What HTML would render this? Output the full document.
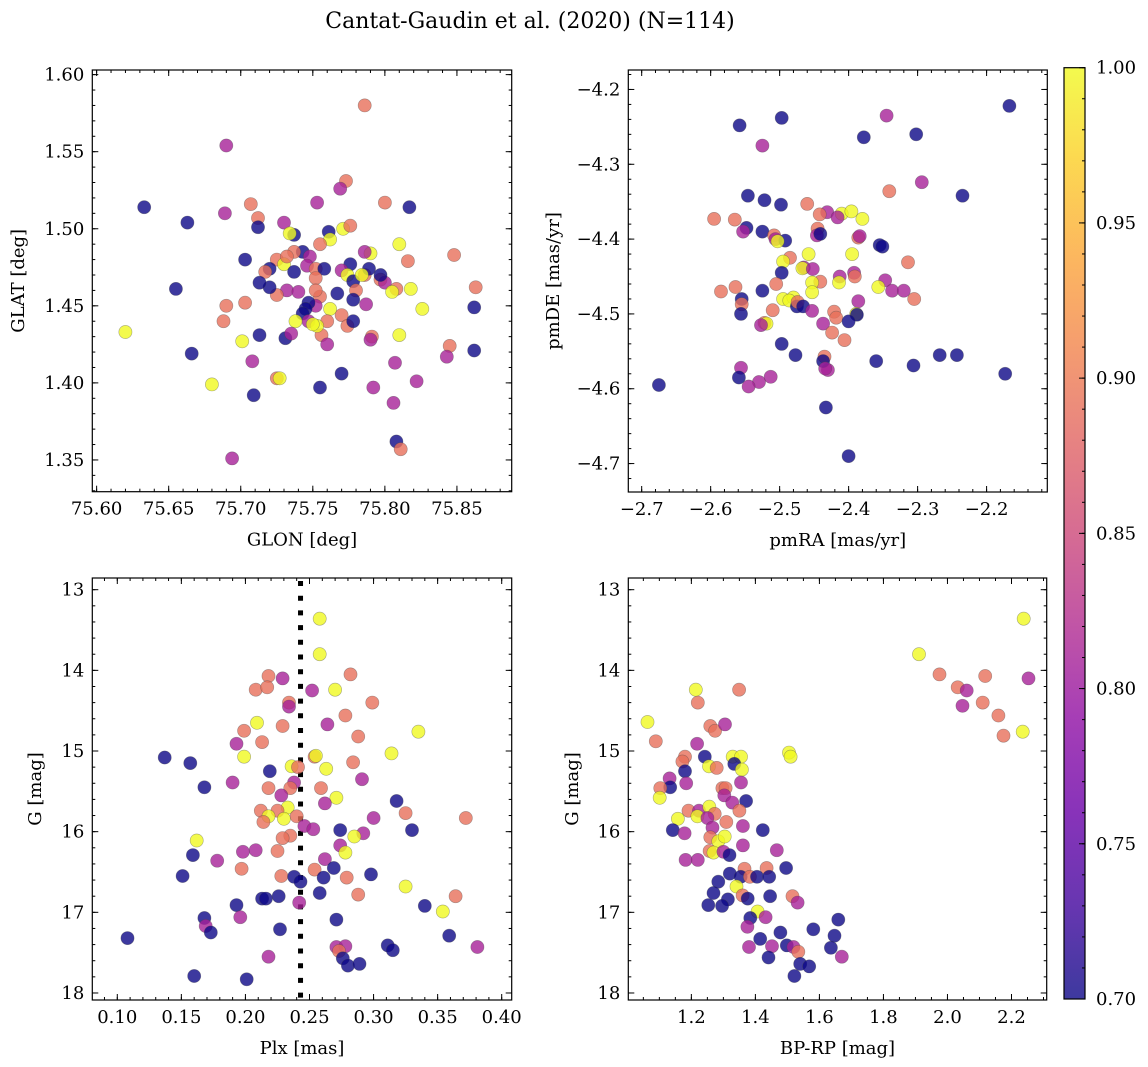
<!DOCTYPE html>
<html><head><meta charset="utf-8">
<style>
html,body{margin:0;padding:0;background:#fff;}
svg{display:block;font-family:"DejaVu Serif","Liberation Serif",serif;}
</style></head>
<body>
<svg id="fig" width="1148" height="1067" viewBox="0 0 1148 1067" xmlns="http://www.w3.org/2000/svg">
<defs>
<linearGradient id="plasma" x1="0" y1="1" x2="0" y2="0">
<stop offset="0" stop-color="#0d0887"/><stop offset="0.1" stop-color="#41049d"/><stop offset="0.2" stop-color="#6a00a8"/><stop offset="0.3" stop-color="#8f0da4"/><stop offset="0.4" stop-color="#b12a90"/><stop offset="0.5" stop-color="#cc4778"/><stop offset="0.6" stop-color="#e16462"/><stop offset="0.7" stop-color="#f2844b"/><stop offset="0.8" stop-color="#fca636"/><stop offset="0.9" stop-color="#fcce25"/><stop offset="1" stop-color="#f0f921"/>
</linearGradient>
</defs>
<text x="530" y="28" font-size="22" text-anchor="middle">Cantat-Gaudin et al. (2020) (N=114)</text>
</svg>
<script>
// ---- Panel 1: GLON vs GLAT ----
const tlLon=[75.786,75.69,75.633,75.663,75.689,75.707,75.712,75.712,75.773,75.769,75.753,75.80,75.817,75.730,75.737,75.734,75.761,75.771,75.776,75.81,75.79,75.786,75.762,75.755,75.743,75.725,75.737,75.748,75.73,75.703,75.720,75.717,75.737,75.746,75.752,75.758,75.752,75.776,75.770,75.774,75.778,75.780,75.786,75.789,75.797,75.816,75.848,75.863,75.862,75.862,75.845,75.843,75.826,75.818,75.810,75.808,75.800,75.805,75.807,75.822,75.806,75.808,75.811,75.792,75.791,75.790,75.787,75.778,75.767,75.770,75.774,75.778,75.762,75.760,75.756,75.760,75.755,75.752,75.752,75.747,75.745,75.743,75.747,75.753,75.750,75.738,75.732,75.740,75.725,75.720,75.713,75.703,75.69,75.688,75.655,75.666,75.620,75.680,75.701,75.708,75.713,75.709,75.694,75.725,75.727,75.731,75.735,75.755,75.770,75.784,75.797,75.732];
const tlLat=[1.580,1.554,1.514,1.504,1.510,1.516,1.507,1.501,1.531,1.526,1.517,1.517,1.514,1.504,1.496,1.497,1.498,1.500,1.502,1.490,1.484,1.485,1.493,1.490,1.485,1.480,1.485,1.482,1.477,1.480,1.474,1.472,1.472,1.476,1.474,1.474,1.468,1.477,1.473,1.470,1.466,1.460,1.470,1.474,1.467,1.479,1.483,1.462,1.449,1.421,1.424,1.417,1.448,1.461,1.431,1.461,1.465,1.459,1.413,1.401,1.387,1.362,1.357,1.397,1.430,1.428,1.451,1.454,1.458,1.444,1.437,1.440,1.448,1.440,1.431,1.425,1.456,1.450,1.460,1.452,1.448,1.445,1.440,1.437,1.438,1.440,1.460,1.459,1.457,1.462,1.465,1.452,1.450,1.440,1.461,1.419,1.433,1.399,1.427,1.414,1.431,1.392,1.351,1.403,1.403,1.429,1.432,1.397,1.406,1.470,1.470,1.482];
const tlProb=[.89,.81,.7,.7,.81,.89,.89,.7,.89,.81,.81,.89,.7,.81,.7,1,.7,1,.89,1,1,.81,1,.89,.7,.89,.89,.81,1,.7,.7,.89,.7,.81,.89,.7,.89,.7,.81,1,.7,.89,.89,.7,.89,.89,.89,.89,.7,.7,.89,.81,1,1,1,.89,.81,1,.81,.81,.81,.7,.89,.81,.89,.81,.81,.7,.7,.89,.89,.7,1,.89,.89,.81,.89,.81,.89,.7,.7,.7,.81,1,1,1,.81,.81,.89,.7,.7,.89,.89,.89,.7,.7,1,1,1,.81,.7,.7,.81,.89,1,.7,.81,.7,.7,1,.7,.89];
const tlXTicks=[75.60,75.65,75.70,75.75,75.80,75.85];
const tlXLabels=["75.60","75.65","75.70","75.75","75.80","75.85"];
const tlYTicks=[1.35,1.40,1.45,1.50,1.55,1.60];
const tlYLabels=["1.35","1.40","1.45","1.50","1.55","1.60"];
// ---- Panel 2: pmRA vs pmDE ----
const trPmra=[-2.675,-2.558,-2.497,-2.525,-2.345,-2.167,-2.378,-2.302,-2.294,-2.341,-2.235,-2.546,-2.522,-2.498,-2.460,-2.431,-2.442,-2.410,-2.396,-2.380,-2.416,-2.595,-2.565,-2.548,-2.553,-2.525,-2.508,-2.506,-2.492,-2.503,-2.445,-2.446,-2.441,-2.458,-2.386,-2.384,-2.355,-2.351,-2.314,-2.485,-2.495,-2.497,-2.465,-2.467,-2.452,-2.395,-2.441,-2.453,-2.413,-2.414,-2.392,-2.391,-2.347,-2.337,-2.320,-2.305,-2.357,-2.386,-2.389,-2.388,-2.564,-2.555,-2.555,-2.556,-2.585,-2.525,-2.505,-2.495,-2.480,-2.486,-2.475,-2.474,-2.466,-2.453,-2.453,-2.421,-2.418,-2.400,-2.510,-2.522,-2.519,-2.527,-2.497,-2.437,-2.424,-2.406,-2.435,-2.477,-2.430,-2.437,-2.434,-2.556,-2.559,-2.530,-2.513,-2.545,-2.360,-2.306,-2.268,-2.243,-2.173,-2.433,-2.400];
const trPmde=[-4.595,-4.248,-4.238,-4.275,-4.235,-4.222,-4.264,-4.260,-4.324,-4.336,-4.342,-4.342,-4.348,-4.354,-4.353,-4.364,-4.367,-4.366,-4.363,-4.373,-4.371,-4.373,-4.374,-4.385,-4.390,-4.390,-4.395,-4.400,-4.402,-4.403,-4.386,-4.395,-4.393,-4.420,-4.398,-4.396,-4.408,-4.410,-4.431,-4.425,-4.430,-4.445,-4.438,-4.439,-4.440,-4.420,-4.457,-4.458,-4.450,-4.458,-4.445,-4.450,-4.455,-4.469,-4.469,-4.480,-4.464,-4.483,-4.500,-4.501,-4.464,-4.480,-4.487,-4.500,-4.470,-4.469,-4.460,-4.480,-4.478,-4.482,-4.490,-4.484,-4.490,-4.471,-4.496,-4.497,-4.505,-4.510,-4.495,-4.512,-4.513,-4.515,-4.540,-4.513,-4.525,-4.535,-4.557,-4.555,-4.575,-4.563,-4.573,-4.572,-4.585,-4.591,-4.584,-4.597,-4.563,-4.569,-4.555,-4.555,-4.580,-4.625,-4.690];
const trProb=[.7,.7,.7,.81,.81,.7,.7,.7,.81,.89,.7,.7,.7,.7,.89,.81,.89,1,1,1,.81,.89,.89,.7,.81,.7,.89,.81,.7,1,.89,.81,.7,1,.89,.81,.7,.7,.89,.89,1,.7,.81,1,.81,1,.89,1,.81,1,.81,.89,.81,.81,.81,.89,1,.81,1,.7,.89,.7,.89,.7,.89,.7,.89,1,1,1,.7,.89,.7,1,.81,.89,.89,.7,.89,.89,1,.81,.7,.81,.89,.89,.89,.7,.81,.7,.81,.81,.7,.81,.81,.81,.7,.7,.7,.7,.7,.7,.7];
const trXTicks=[-2.7,-2.6,-2.5,-2.4,-2.3,-2.2];
const trXLabels=["−2.7","−2.6","−2.5","−2.4","−2.3","−2.2"];
const trYTicks=[-4.7,-4.6,-4.5,-4.4,-4.3,-4.2];
const trYLabels=["−4.7","−4.6","−4.5","−4.4","−4.3","−4.2"];
// ---- Panel 3: Plx vs G ----
const blPlx=[0.258,0.258,0.218,0.229,0.282,0.208,0.217,0.252,0.270,0.234,0.234,0.299,0.278,0.209,0.229,0.264,0.199,0.335,0.288,0.213,0.193,0.314,0.137,0.199,0.254,0.255,0.157,0.236,0.241,0.219,0.263,0.284,0.190,0.238,0.291,0.168,0.218,0.235,0.259,0.228,0.271,0.318,0.262,0.233,0.212,0.225,0.218,0.230,0.240,0.214,0.325,0.372,0.300,0.246,0.253,0.274,0.330,0.292,0.285,0.235,0.229,0.162,0.274,0.278,0.159,0.198,0.208,0.225,0.178,0.262,0.197,0.254,0.269,0.151,0.228,0.238,0.243,0.261,0.279,0.298,0.325,0.258,0.288,0.226,0.213,0.216,0.364,0.242,0.193,0.340,0.354,0.168,0.196,0.271,0.169,0.173,0.227,0.359,0.108,0.311,0.315,0.271,0.278,0.273,0.276,0.381,0.218,0.280,0.289,0.160,0.201];
const blG=[13.36,13.80,14.07,14.10,14.05,14.24,14.21,14.25,14.24,14.40,14.45,14.40,14.56,14.65,14.69,14.67,14.75,14.76,14.82,14.89,14.91,15.03,15.08,15.07,15.07,15.06,15.15,15.19,15.20,15.25,15.22,15.14,15.39,15.39,15.35,15.45,15.46,15.46,15.46,15.55,15.58,15.62,15.65,15.70,15.74,15.74,15.81,15.84,15.81,15.88,15.77,15.83,15.83,15.93,15.97,15.98,15.98,16.02,16.06,16.05,16.08,16.11,16.17,16.26,16.29,16.25,16.23,16.24,16.36,16.34,16.46,16.47,16.45,16.55,16.55,16.56,16.62,16.57,16.57,16.53,16.68,16.76,16.78,16.80,16.83,16.83,16.80,16.88,16.91,16.92,16.99,17.07,17.06,17.09,17.17,17.25,17.21,17.29,17.32,17.41,17.47,17.43,17.42,17.48,17.57,17.43,17.55,17.66,17.64,17.79,17.83];
const blProb=[1,1,.89,.81,.89,.89,.89,.81,1,.89,.81,.89,.89,1,.89,.81,.89,1,.89,.89,.81,1,.7,1,.89,1,.7,1,.89,.7,1,.89,.81,.81,.81,.7,.89,.89,.89,.81,1,.7,.81,1,.89,.89,1,1,.89,.89,.89,.89,.81,.81,.81,.7,.7,.81,1,.89,.89,1,.81,1,.7,.81,.81,.89,.81,.81,.89,.89,.7,.7,.89,.7,.7,.7,.89,.7,1,.7,.89,.7,.7,.7,.89,.81,.7,.7,1,.7,.81,.7,.81,.7,.7,.7,.7,.7,.7,.81,.81,.89,.7,.81,.81,.7,.7,.7,.7];
const blPlxRef=[0.243];
const blXTicks=[0.10,0.15,0.20,0.25,0.30,0.35,0.40];
const blXLabels=["0.10","0.15","0.20","0.25","0.30","0.35","0.40"];
const gTicks=[13,14,15,16,17,18];
const gLabels=["13","14","15","16","17","18"];
// ---- Panel 4: BP-RP vs G ----
const brBprp=[2.238,1.911,1.975,2.118,2.253,2.032,2.060,2.047,2.110,2.159,2.175,2.235,1.214,1.349,1.220,1.063,1.089,1.259,1.274,1.305,1.218,1.180,1.172,1.242,1.329,1.355,1.334,1.255,1.279,1.358,1.180,1.505,1.510,1.132,1.134,1.103,1.184,1.297,1.307,1.355,1.303,1.328,1.371,1.101,1.191,1.224,1.256,1.219,1.273,1.250,1.350,1.158,1.309,1.266,1.142,1.179,1.361,1.423,1.259,1.284,1.304,1.361,1.257,1.269,1.300,1.319,1.467,1.182,1.220,1.366,1.435,1.496,1.320,1.354,1.383,1.405,1.443,1.284,1.341,1.269,1.314,1.360,1.376,1.446,1.516,1.532,1.253,1.296,1.407,1.384,1.432,1.375,1.659,1.581,1.478,1.647,1.415,1.498,1.519,1.534,1.380,1.452,1.636,1.670,1.441,1.540,1.568,1.522];
const brG=[13.36,13.80,14.05,14.07,14.10,14.21,14.25,14.44,14.40,14.56,14.81,14.76,14.24,14.24,14.40,14.64,14.88,14.69,14.75,14.67,14.91,15.07,15.13,15.07,15.07,15.07,15.16,15.19,15.21,15.23,15.25,15.02,15.07,15.34,15.45,15.46,15.40,15.46,15.46,15.39,15.55,15.64,15.62,15.58,15.74,15.74,15.69,15.81,15.78,15.83,15.74,15.84,15.88,15.95,15.98,16.02,15.93,15.98,16.07,16.12,16.06,16.17,16.24,16.26,16.25,16.29,16.23,16.35,16.35,16.46,16.45,16.45,16.52,16.56,16.56,16.56,16.56,16.62,16.68,16.76,16.84,16.79,16.83,16.80,16.80,16.88,16.91,16.92,16.99,17.07,17.06,17.18,17.09,17.21,17.25,17.29,17.33,17.41,17.43,17.49,17.43,17.42,17.44,17.55,17.56,17.64,17.67,17.79];
const brProb=[1,1,.89,.89,.81,.89,.81,.81,.89,.89,.89,1,1,.89,.89,1,.89,.89,.89,.81,.81,.89,.89,.7,1,1,.7,1,.89,1,.7,1,1,.81,.7,.89,.81,.89,.89,.81,.81,.81,.7,1,.89,.81,1,1,.89,.81,.89,1,.89,.81,.7,.81,.81,.7,.89,1,1,.81,.89,1,.81,.7,.81,.81,.81,.89,.89,.7,.7,.7,.89,.7,.7,.7,1,.7,.7,.89,.7,.7,.89,.81,.7,.7,1,.7,.81,.81,.7,.7,.7,.7,.7,.7,.81,.89,.81,.81,.7,.81,.7,.7,.7,.7];
const brXTicks=[1.2,1.4,1.6,1.8,2.0,2.2];
const brXLabels=["1.2","1.4","1.6","1.8","2.0","2.2"];
// ---- Colorbar ----
const cbTicks=[0.70,0.75,0.80,0.85,0.90,0.95,1.00];
const cbLabels=["0.70","0.75","0.80","0.85","0.90","0.95","1.00"];

const NS="http://www.w3.org/2000/svg";
const svg=document.getElementById('fig');
const FS=18;
function mk(tag,attrs,parent){const e=document.createElementNS(NS,tag);for(const k in attrs)e.setAttribute(k,attrs[k]);(parent||svg).appendChild(e);return e;}
const stops=[[13,8,135],[65,4,157],[106,0,168],[143,13,164],[177,42,144],[204,71,120],[225,100,98],[242,132,75],[252,166,54],[252,206,37],[240,249,33]];
function plasma(v){const t=Math.max(0,Math.min(1,(v-0.7)/0.3))*10;const i=Math.min(9,Math.floor(t));const f=t-i;const a=stops[i],b=stops[i+1];return `rgb(${Math.round(a[0]+(b[0]-a[0])*f)},${Math.round(a[1]+(b[1]-a[1])*f)},${Math.round(a[2]+(b[2]-a[2])*f)})`;}
function minorTicks(lo,hi,step){const out=[];const s=Math.ceil(lo/step-1e-6);for(let k=s;k*step<=hi+1e-9;k++)out.push(k*step);return out;}

function panel(o){
  const g=mk('g',{});
  
  
  const sx=v=>o.x0+(v-o.xd[0])/(o.xd[1]-o.xd[0])*(o.x1-o.x0);
  const sy=o.yInv?(v=>o.y0+(v-o.yd[0])/(o.yd[1]-o.yd[0])*(o.y1-o.y0)):(v=>o.y1-(v-o.yd[0])/(o.yd[1]-o.yd[0])*(o.y1-o.y0));
  if(o.vline){for(const v of o.vline){const l=mk('line',{x1:sx(v),x2:sx(v),y1:o.y0+3,y2:o.y1,stroke:'#000','stroke-width':5,'stroke-dasharray':'5 9.7'},g);
    
    }}
  const pg=mk('g',{},g);
  
  
  const n=Math.min(o.xs.length,o.ys.length,o.cs.length);
  for(let i=0;i<n;i++){
    const c=mk('circle',{cx:sx(o.xs[i]).toFixed(1),cy:sy(o.ys[i]).toFixed(1),r:6.6,fill:plasma(o.cs[i]),'fill-opacity':0.8,stroke:'rgba(70,70,70,0.45)','stroke-width':0.6},pg);
    
    
  }
  const fr=mk('rect',{x:o.x0,y:o.y0,width:o.x1-o.x0,height:o.y1-o.y0,fill:'none',stroke:'#000','stroke-width':1.2},g);
  
  
  const tk=mk('g',{stroke:'#000','stroke-width':1},g);
  for(const v of minorTicks(o.xd[0],o.xd[1],o.xMinor)){const x=sx(v);mk('line',{x1:x,x2:x,y1:o.y1,y2:o.y1-3},tk);mk('line',{x1:x,x2:x,y1:o.y0,y2:o.y0+3},tk);}
  for(const v of minorTicks(Math.min(...o.yd),Math.max(...o.yd),o.yMinor)){const y=sy(v);mk('line',{x1:o.x0,x2:o.x0+3,y1:y,y2:y},tk);mk('line',{x1:o.x1,x2:o.x1-3,y1:y,y2:y},tk);}
  o.xt.forEach((v,i)=>{const x=sx(v);mk('line',{x1:x,x2:x,y1:o.y1,y2:o.y1-6},tk);mk('line',{x1:x,x2:x,y1:o.y0,y2:o.y0+6},tk);
    const t=mk('text',{x:x,y:o.y1+23,'font-size':FS,'text-anchor':'middle'},g);t.textContent=o.xl[i];
    
    });
  o.yt.forEach((v,i)=>{const y=sy(v);mk('line',{x1:o.x0,x2:o.x0+6,y1:y,y2:y},tk);mk('line',{x1:o.x1,x2:o.x1-6,y1:y,y2:y},tk);
    const t=mk('text',{x:o.x0-8,y:y+6,'font-size':FS,'text-anchor':'end'},g);t.textContent=o.yl[i];
    
    });
  const xt=mk('text',{x:(o.x0+o.x1)/2,y:o.y1+54,'font-size':FS,'text-anchor':'middle'},g);xt.textContent=o.xtitle;
  
  
  const ycx=o.ytx, ycy=(o.y0+o.y1)/2;
  const yt=mk('text',{x:ycx,y:ycy,'font-size':FS,'text-anchor':'middle',transform:`rotate(-90 ${ycx} ${ycy})`},g);yt.textContent=o.ytitle;
  
  
}

panel({name:'glon-glat-panel',x0:92.3,x1:511.7,y0:70,y1:491.7,xd:[75.597,75.888],yd:[1.3294,1.603],xs:tlLon,ys:tlLat,cs:tlProb,xt:tlXTicks,xl:tlXLabels,yt:tlYTicks,yl:tlYLabels,xMinor:0.01,yMinor:0.01,xtitle:'GLON [deg]',ytitle:'GLAT [deg]',ytx:24});
panel({name:'pm-panel',x0:628.3,x1:1047.3,y0:70,y1:492,xd:[-2.7194,-2.112],yd:[-4.738,-4.174],xs:trPmra,ys:trPmde,cs:trProb,xt:trXTicks,xl:trXLabels,yt:trYTicks,yl:trYLabels,xMinor:0.02,yMinor:0.02,xtitle:'pmRA [mas/yr]',ytitle:'pmDE [mas/yr]',ytx:559});
panel({name:'plx-g-panel',x0:92.3,x1:511.7,y0:578,y1:1000,xd:[0.0805,0.4078],yd:[12.855,18.087],yInv:true,xs:blPlx,ys:blG,cs:blProb,xt:blXTicks,xl:blXLabels,yt:gTicks,yl:gLabels,xMinor:0.01,yMinor:0.2,xtitle:'Plx [mas]',ytitle:'G [mag]',ytx:41,vline:blPlxRef});
panel({name:'cmd-panel',x0:628.3,x1:1046.7,y0:578,y1:1000,xd:[1.003,2.31],yd:[12.855,18.087],yInv:true,xs:brBprp,ys:brG,cs:brProb,xt:brXTicks,xl:brXLabels,yt:gTicks,yl:gLabels,xMinor:0.05,yMinor:0.2,xtitle:'BP-RP [mag]',ytitle:'G [mag]',ytx:578});

const cb=mk('g',{});


const cbx0=1064,cbx1=1085,cby0=67.7,cby1=999;
mk('rect',{x:cbx0,y:cby0,width:cbx1-cbx0,height:cby1-cby0,fill:'url(#plasma)','fill-opacity':0.8},cb);
mk('rect',{x:cbx0,y:cby0,width:cbx1-cbx0,height:cby1-cby0,fill:'none',stroke:'#000','stroke-width':1.2},cb);
const cy=v=>cby1-(v-0.7)/0.3*(cby1-cby0);
for(const v of minorTicks(0.7,1.0,0.01)){mk('line',{x1:cbx1,x2:cbx1-3,y1:cy(v),y2:cy(v),stroke:'#000','stroke-width':1},cb);}
cbTicks.forEach((v,i)=>{mk('line',{x1:cbx1,x2:cbx1-6,y1:cy(v),y2:cy(v),stroke:'#000','stroke-width':1},cb);
  const t=mk('text',{x:cbx1+11,y:cy(v)+6,'font-size':FS},cb);t.textContent=cbLabels[i];
  
  });
</script>
</body></html>
